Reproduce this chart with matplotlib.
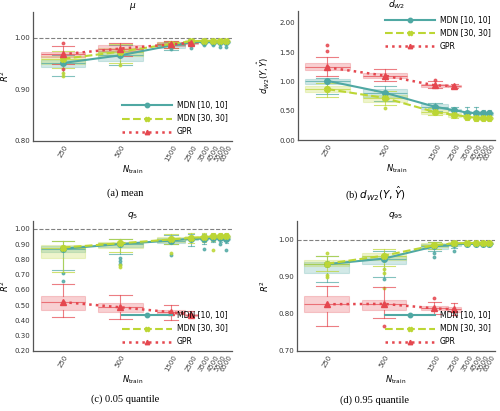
import matplotlib
matplotlib.use("Agg")
import matplotlib.pyplot as plt
import numpy as np

# training set sizes
N = [250, 500, 1500, 2500, 3500, 4500, 5500, 6500]
N_gpr = [250, 500, 1500, 2500]
methods = ["MDN [10, 10]", "MDN [30, 30]", "GPR"]

# box summaries, rows: median, q1, q3, whisker low, whisker high
mu_mdn10 = [[0.951, 0.966, 0.985, 0.991, 0.992, 0.992, 0.992, 0.992],
            [0.944, 0.955, 0.981, 0.989, 0.990, 0.990, 0.990, 0.990],
            [0.957, 0.975, 0.989, 0.993, 0.994, 0.994, 0.994, 0.994],
            [0.926, 0.947, 0.976, 0.986, 0.988, 0.988, 0.987, 0.988],
            [0.966, 0.985, 0.992, 0.996, 0.996, 0.996, 0.996, 0.996]]
mu_mdn10_fl = [[], [], [0.978], [0.981], [0.985], [0.985], [0.982], [0.982]]
mu_mdn30 = [[0.959, 0.973, 0.988, 0.993, 0.994, 0.994, 0.994, 0.994],
            [0.950, 0.965, 0.985, 0.991, 0.992, 0.992, 0.992, 0.992],
            [0.965, 0.980, 0.991, 0.995, 0.996, 0.996, 0.996, 0.996],
            [0.941, 0.952, 0.980, 0.988, 0.989, 0.989, 0.989, 0.989],
            [0.975, 0.988, 0.994, 0.997, 0.997, 0.997, 0.997, 0.997]]
mu_mdn30_fl = [[0.932, 0.925], [0.948], [], [], [], [], [], []]
mu_gpr = [[0.968, 0.979, 0.987, 0.990],
          [0.962, 0.974, 0.984, 0.988],
          [0.972, 0.985, 0.991, 0.992],
          [0.950, 0.965, 0.980, 0.986],
          [0.984, 0.990, 0.994, 0.994]]
mu_gpr_fl = [[0.94, 0.99], [], [], []]

dw_mdn10 = [[1.01, 0.81, 0.57, 0.51, 0.47, 0.46, 0.46, 0.46],
            [0.95, 0.74, 0.53, 0.49, 0.44, 0.43, 0.44, 0.43],
            [1.04, 0.87, 0.62, 0.53, 0.50, 0.49, 0.48, 0.48],
            [0.78, 0.66, 0.49, 0.45, 0.40, 0.40, 0.40, 0.40],
            [1.06, 0.92, 0.64, 0.56, 0.57, 0.56, 0.52, 0.51]]
dw_mdn10_fl = [[], [], [], [], [], [], [], []]
dw_mdn30 = [[0.87, 0.72, 0.48, 0.43, 0.40, 0.38, 0.38, 0.38],
            [0.82, 0.65, 0.45, 0.39, 0.37, 0.36, 0.36, 0.36],
            [0.92, 0.77, 0.52, 0.46, 0.42, 0.41, 0.40, 0.40],
            [0.73, 0.60, 0.43, 0.37, 0.34, 0.33, 0.33, 0.33],
            [0.98, 0.84, 0.55, 0.49, 0.45, 0.44, 0.43, 0.43]]
dw_mdn30_fl = [[], [0.55], [], [], [], [], [], []]
dw_gpr = [[1.24, 1.10, 0.935, 0.92],
          [1.19, 1.06, 0.91, 0.90],
          [1.31, 1.14, 0.96, 0.94],
          [1.10, 1.01, 0.89, 0.89],
          [1.42, 1.21, 1.00, 0.95]]
dw_gpr_fl = [[1.52, 1.63], [], [1.03], []]

q5_mdn10 = [[0.869, 0.900, 0.923, 0.935, 0.935, 0.940, 0.940, 0.935],
            [0.850, 0.880, 0.910, 0.925, 0.925, 0.930, 0.930, 0.925],
            [0.890, 0.910, 0.940, 0.945, 0.950, 0.950, 0.950, 0.950],
            [0.727, 0.834, 0.900, 0.890, 0.900, 0.915, 0.915, 0.910],
            [0.920, 0.935, 0.960, 0.965, 0.965, 0.965, 0.965, 0.965]]
q5_mdn10_fl = [[0.71, 0.66], [0.81, 0.79, 0.77], [0.825], [], [0.865], [], [0.90], [0.86]]
q5_mdn30 = [[0.877, 0.905, 0.930, 0.940, 0.945, 0.950, 0.950, 0.950],
            [0.808, 0.875, 0.915, 0.930, 0.935, 0.940, 0.940, 0.940],
            [0.895, 0.915, 0.945, 0.955, 0.955, 0.960, 0.960, 0.960],
            [0.720, 0.845, 0.900, 0.910, 0.915, 0.920, 0.925, 0.925],
            [0.920, 0.935, 0.965, 0.970, 0.970, 0.970, 0.975, 0.975]]
q5_mdn30_fl = [[], [0.76, 0.75], [0.84], [], [], [0.86], [], []]
q5_gpr = [[0.520, 0.486, 0.454, 0.436],
          [0.469, 0.455, 0.440, 0.430],
          [0.563, 0.515, 0.470, 0.445],
          [0.425, 0.410, 0.400, 0.420],
          [0.637, 0.565, 0.500, 0.460]]
q5_gpr_fl = [[], [], [], []]

q95_mdn10 = [[0.934, 0.949, 0.982, 0.987, 0.989, 0.989, 0.989, 0.989],
             [0.910, 0.934, 0.975, 0.983, 0.987, 0.987, 0.987, 0.987],
             [0.940, 0.955, 0.988, 0.991, 0.991, 0.991, 0.991, 0.991],
             [0.887, 0.899, 0.970, 0.978, 0.984, 0.985, 0.985, 0.985],
             [0.955, 0.970, 0.993, 0.995, 0.994, 0.994, 0.994, 0.994]]
q95_mdn10_fl = [[], [0.893], [0.965, 0.952], [0.970], [], [], [], []]
q95_mdn30 = [[0.935, 0.957, 0.985, 0.990, 0.991, 0.991, 0.991, 0.991],
             [0.928, 0.945, 0.980, 0.987, 0.989, 0.989, 0.989, 0.989],
             [0.945, 0.965, 0.990, 0.993, 0.993, 0.993, 0.993, 0.993],
             [0.915, 0.930, 0.975, 0.982, 0.986, 0.986, 0.986, 0.986],
             [0.955, 0.975, 0.995, 0.997, 0.996, 0.996, 0.996, 0.996]]
q95_mdn30_fl = [[0.965, 0.905, 0.90], [0.92, 0.91, 0.87], [], [], [], [], [], []]
q95_gpr = [[0.826, 0.827, 0.815, 0.812],
           [0.806, 0.810, 0.810, 0.805],
           [0.848, 0.838, 0.820, 0.818],
           [0.768, 0.788, 0.800, 0.796],
           [0.876, 0.872, 0.832, 0.828]]
q95_gpr_fl = [[], [0.767], [0.843], []]

colors = ["#4fa8a3", "#bcd634", "#e5474f"]
lstyles = ["-", "--", ":"]
markers = ["o", "X", "^"]

plt.rcParams["mathtext.fontset"] = "dejavusans"


def xpos(n):
    # axis spacing used in the paper figure
    return np.log10(np.asarray(n) - 190.0)


box_w = [0.55, 0.55, 0.34, 0.16, 0.10, 0.09, 0.08, 0.08]


def draw(ax, series, fliers, title, ylabel, yticks, ylim, legend_loc, ylab_x,
         ref_line=True):
    for k, (s, fl) in enumerate(zip(series, fliers)):
        n = N if len(s[0]) == len(N) else N_gpr
        c = colors[k]
        stats = []
        for i in range(len(n)):
            stats.append(dict(med=s[0][i], q1=s[1][i], q3=s[2][i],
                              whislo=s[3][i], whishi=s[4][i], fliers=fl[i]))
        ax.bxp(stats, positions=xpos(n), widths=box_w[:len(n)], patch_artist=True,
               manage_ticks=False,
               boxprops=dict(facecolor=c, edgecolor=c, alpha=0.25, lw=0.8),
               medianprops=dict(color=c, alpha=0.7, lw=0.8),
               whiskerprops=dict(color=c, alpha=0.7, lw=0.8),
               capprops=dict(color=c, alpha=0.7, lw=0.8),
               flierprops=dict(marker="o", markersize=1.8, markerfacecolor=c,
                               markeredgecolor=c, alpha=0.8))
        ax.plot(xpos(n), s[0], color=c, ls=lstyles[k], marker=markers[k],
                lw=1.5 if k < 2 else 1.8, markersize=4, label=methods[k], zorder=5)
    if ref_line:
        ax.axhline(1.0, color="gray", ls="--", lw=0.8, zorder=0)
    ax.set_xticks(xpos(N))
    ax.set_xticklabels([str(v) for v in N], rotation=60, fontsize=5, color="#444444")
    ax.set_xlim(1.41, 3.87)
    ax.set_ylim(*ylim)
    ax.set_yticks(yticks)
    ax.set_yticklabels(["%.2f" % v for v in yticks], fontsize=5, color="#333333")
    ax.tick_params(length=0, pad=2)
    ax.set_title(title, fontsize=6.5, pad=1)
    ax.set_ylabel(ylabel, fontsize=6)
    ax.yaxis.set_label_coords(ylab_x, 0.5)
    ax.set_xlabel(r"$N_{\mathrm{train}}$", fontsize=6, labelpad=1)
    for sp in ["top", "right"]:
        ax.spines[sp].set_visible(False)
    for sp in ["left", "bottom"]:
        ax.spines[sp].set_color("#555555")
        ax.spines[sp].set_linewidth(0.9)
    ax.legend(loc=legend_loc, frameon=False, fontsize=5.5, handlelength=6.5,
              markerscale=0.8, labelspacing=0.55, borderaxespad=0.2, handletextpad=0.6)


fig = plt.figure(figsize=(5.0, 4.11), dpi=100)
ax_a = fig.add_axes([0.066, 0.657, 0.398, 0.314])
ax_b = fig.add_axes([0.596, 0.659, 0.394, 0.314])
ax_c = fig.add_axes([0.066, 0.146, 0.398, 0.316])
ax_d = fig.add_axes([0.594, 0.146, 0.396, 0.316])

draw(ax_a, [mu_mdn10, mu_mdn30, mu_gpr], [mu_mdn10_fl, mu_mdn30_fl, mu_gpr_fl],
     r"$\mu$", r"$R^2$", [0.80, 0.90, 1.00], (0.80, 1.05), "lower right", -0.11)
draw(ax_b, [dw_mdn10, dw_mdn30, dw_gpr], [dw_mdn10_fl, dw_mdn30_fl, dw_gpr_fl],
     r"$d_{W2}$", r"$d_{W2}(Y, \hat{Y})$", [0.0, 0.5, 1.0, 1.5, 2.0], (0.0, 2.2),
     "upper right", -0.13, ref_line=False)
draw(ax_c, [q5_mdn10, q5_mdn30, q5_gpr], [q5_mdn10_fl, q5_mdn30_fl, q5_gpr_fl],
     r"$q_5$", r"$R^2$", list(np.round(np.arange(0.2, 1.01, 0.1), 2)), (0.20, 1.05),
     "lower right", -0.11)
draw(ax_d, [q95_mdn10, q95_mdn30, q95_gpr], [q95_mdn10_fl, q95_mdn30_fl, q95_gpr_fl],
     r"$q_{95}$", r"$R^2$", [0.70, 0.80, 0.90, 1.00], (0.70, 1.05), "lower right", -0.13)

cap = dict(ha="center", va="center", fontsize=7.5, family="Liberation Serif")
fig.text(0.25, 1 - 193 / 411, "(a) mean", **cap)
fig.text(0.75, 1 - 193 / 411, r"(b) $d_{W2}(Y, \hat{Y})$", **cap)
fig.text(0.25, 1 - 399 / 411, "(c) 0.05 quantile", **cap)
fig.text(0.75, 1 - 400 / 411, "(d) 0.95 quantile", **cap)

fig.savefig("out.png", dpi=100)
